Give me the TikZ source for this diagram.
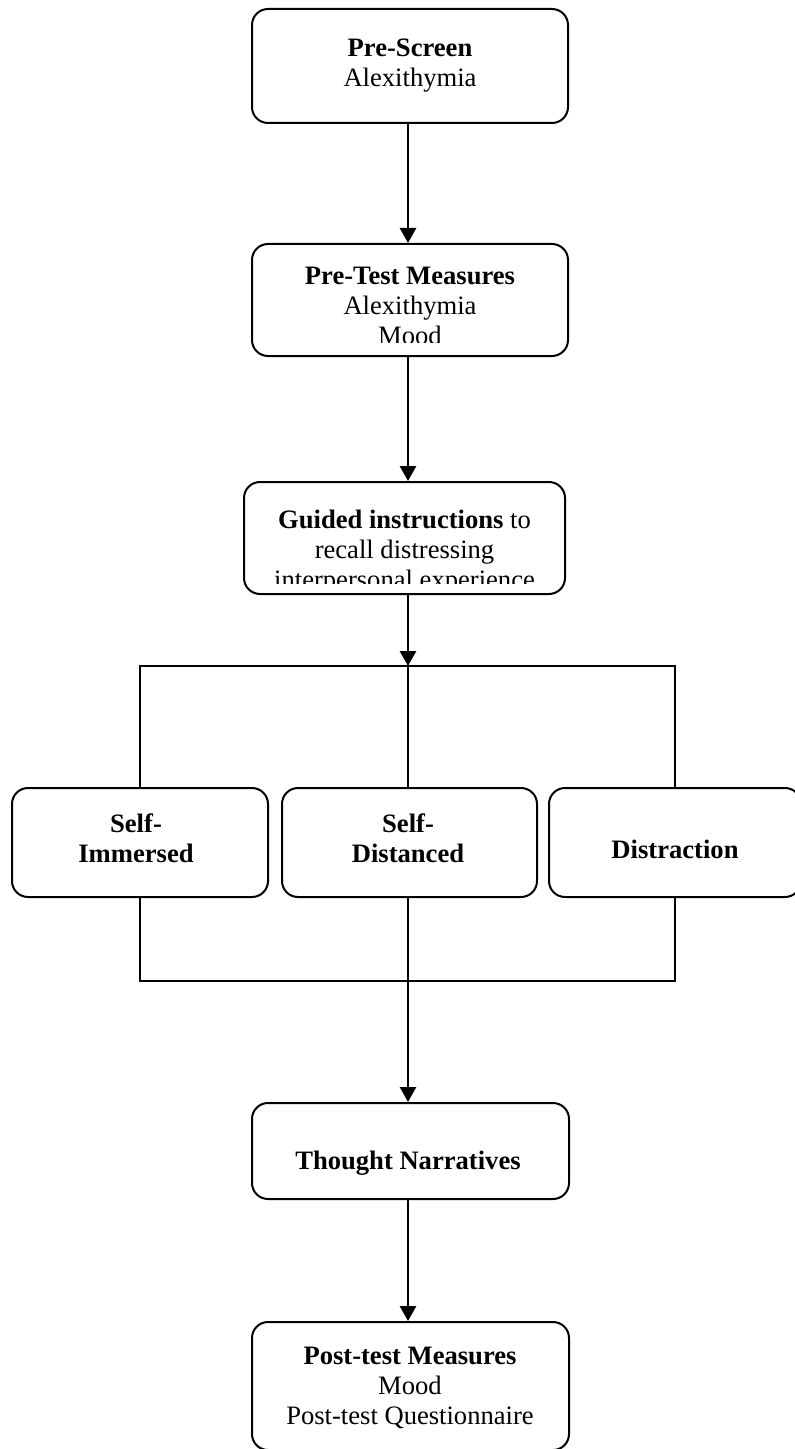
\documentclass[tikz,border=0pt]{standalone}
\usepackage{fontspec}
\setmainfont{Liberation Serif}
\usetikzlibrary{arrows.meta}

\begin{document}
\begin{tikzpicture}[x=0.5pt,y=-0.5pt,>={Triangle[length=7.5pt,width=8pt]},
	box/.style={draw,line width=1pt,rounded corners=8pt,inner sep=0pt},
	txt/.style={align=center,font=\fontsize{13.3pt}{15pt}\selectfont,inner sep=0pt,anchor=base},
	link/.style={line width=1pt},
	flow/.style={->,line width=1.4pt}]
	\useasboundingbox (0,0) rectangle (795,1449);
	% boxes
	\node[box,minimum width=158pt,minimum height=57pt]   (screen) at (410,66)     {};
	\node[box,minimum width=158pt,minimum height=56pt]   (pretest) at (410,300)   {};
	\node[box,minimum width=160.5pt,minimum height=56pt] (guided) at (404.5,538)  {};
	\node[box,minimum width=128pt,minimum height=54.5pt] (immersed) at (140,842.5)   {};
	\node[box,minimum width=127.5pt,minimum height=54.5pt] (distanced) at (409.5,842.5) {};
	\node[box,minimum width=126pt,minimum height=54.5pt] (distract) at (675,842.5)   {};
	\node[box,minimum width=158.5pt,minimum height=48pt] (narr) at (410.5,1151)   {};
	\node[box,minimum width=158.5pt,minimum height=64pt] (posttest) at (410.5,1386) {};
	% texts (anchored at the baseline of the last line)
	\node[txt] (screenText) at (410,87) {\textbf{Pre-Screen}\\Alexithymia};
	\begin{scope}
		\clip (pretest.north west) rectangle ([yshift=7pt]pretest.south east);
		\node[txt] (pretestText) at (410,344) {\textbf{Pre-Test Measures}\\Alexithymia\\Mood};
	\end{scope}
	\begin{scope}
		\clip (guided.north west) rectangle ([yshift=6pt]guided.south east);
		\node[txt] (guidedText) at (404.5,588) {\textbf{Guided instructions} to\\recall distressing\\interpersonal experience};
	\end{scope}
	\node[txt] (immersedText) at (136,862) {\textbf{Self-}\\\textbf{Immersed}};
	\node[txt] (distancedText) at (408,862) {\textbf{Self-}\\\textbf{Distanced}};
	\node[txt] (distractText) at (675,858) {\textbf{Distraction}};
	\node[txt] (narrText) at (408,1169) {\textbf{Thought Narratives}};
	\node[txt] (posttestText) at (410,1424) {\textbf{Post-test Measures}\\Mood\\Post-test Questionnaire};
	% connectors
	\coordinate (busTop) at (408,666);
	\coordinate (busBot) at (408,981);
	\draw[flow] (screen.south -| busTop) -- (pretest.north -| busTop);
	\draw[flow] (pretest.south -| busTop) -- (guided.north -| busTop);
	\draw[flow] (guided.south -| busTop) -- (busTop);
	\draw[link] (immersed.north) |- (busTop) -| (distract.north);
	\draw[link] (busTop) -- (distanced.north -| busTop);
	\draw[link] (immersed.south) |- (busBot) -| (distract.south);
	\draw[link] (distanced.south -| busBot) -- (busBot);
	\draw[flow] (busBot) -- (narr.north -| busBot);
	\draw[flow] (narr.south -| busBot) -- (posttest.north -| busBot);
\end{tikzpicture}
\end{document}
